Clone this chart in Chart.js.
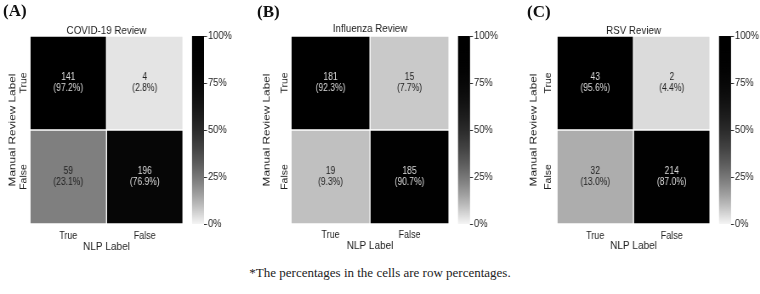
<!DOCTYPE html>
<html>
<head>
<meta charset="utf-8">
<script src="https://cdn.jsdelivr.net/npm/chart.js@4.4.1/dist/chart.umd.min.js"></script>
<style>
  body { margin: 0; background: #fff; width: 760px; height: 294px; position: relative; overflow: hidden; }
  /* the original figure is squeezed sideways, so the canvases are too */
  canvas { position: absolute; top: 0; transform-origin: 0 0; transform: scaleX(0.85); }
  .tag { position: absolute; font: bold 17px "Liberation Serif", "Times New Roman", serif; line-height: 17px; color: #111; }
  #note { position: absolute; left: 0; width: 760px; top: 265px; text-align: center; font: 13px "Liberation Serif", "Times New Roman", serif; line-height: 16px; color: #222; }
</style>
</head>
<body>
<canvas id="chartA" style="left:0px"></canvas>
<canvas id="chartB" style="left:250px"></canvas>
<canvas id="chartC" style="left:505px"></canvas>
<div class="tag" style="left:3px; top:2px">(A)</div>
<div class="tag" style="left:257px; top:3px">(B)</div>
<div class="tag" style="left:527px; top:3px">(C)</div>
<div id="note">*The percentages in the cells are row percentages.</div>
<script>
// rows = manual review label, columns = NLP label
const rowLabels = ["True", "False"];
const colLabels = ["True", "False"];

const covidCounts = [[141, 4], [59, 196]];
const covidPcts = [[97.2, 2.8], [23.1, 76.9]];
const fluCounts = [[181, 15], [19, 185]];
const fluPcts = [[92.3, 7.7], [9.3, 90.7]];
const rsvCounts = [[43, 2], [32, 214]];
const rsvPcts = [[95.6, 4.4], [13.0, 87.0]];

const cbarTicks = [0, 25, 50, 75, 100];

const SX = 0.85;   // same as the css scaleX
Chart.defaults.font.family = '"Liberation Sans", Arial, sans-serif';
Chart.defaults.color = '#222';

// near white -> black, darkens fast like the original colour map
function shade(p) {
  const g = Math.round(245 * Math.pow(1 - p / 100, 2.5));
  return 'rgb(' + g + ',' + g + ',' + g + ')';
}

const heatPlugin = {
  id: 'heat',
  afterDatasetsDraw(chart) {
    const ctx = chart.ctx;
    ctx.save();
    ctx.font = '10px "Liberation Sans", Arial, sans-serif';
    ctx.textAlign = 'center';
    ctx.textBaseline = 'middle';
    chart.data.datasets.forEach((ds, di) => {
      chart.getDatasetMeta(di).data.forEach((bar, c) => {
        const p = ds.pcts[c];
        const cy = (bar.y + bar.base) / 2;
        ctx.fillStyle = p > 50 ? '#dcdcdc' : '#222';
        ctx.fillText(String(ds.counts[c]), bar.x, cy - 5.5);
        ctx.fillText('(' + p.toFixed(1) + '%)', bar.x, cy + 5.5);
      });
    });
    ctx.restore();
  },
  afterDraw(chart) {   // colour bar next to the heatmap, built on the cb scale
    const s = chart.scales.cb;
    const ctx = chart.ctx;
    const x0 = chart.chartArea.right + 9 / SX;
    const w = 12 / SX;
    const grad = ctx.createLinearGradient(0, s.bottom, 0, s.top);
    for (let i = 0; i <= 20; i++) grad.addColorStop(i / 20, shade(i * 5));
    ctx.save();
    ctx.fillStyle = grad;
    ctx.fillRect(x0, s.top, w, s.bottom - s.top);
    ctx.strokeStyle = '#333';
    ctx.lineWidth = 1;
    s.ticks.forEach(t => {
      const y = Math.round(s.getPixelForValue(t.value)) + 0.5;
      ctx.beginPath();
      ctx.moveTo(x0 + w, y);
      ctx.lineTo(x0 + w + 3.5, y);
      ctx.stroke();
    });
    ctx.restore();
  }
};

// lay: page pixels relative to the canvas' left edge
function buildPanel(id, title, counts, pcts, lay) {
  const cv = document.getElementById(id);
  cv.width = Math.round(lay.width / SX);
  cv.height = 260;
  return new Chart(cv, {
    type: 'bar',
    data: {
      labels: colLabels,
      datasets: [1, 0].map(r => ({          // bottom row first in the stack
        label: rowLabels[r],
        data: colLabels.map(() => 1),
        counts: counts[r],
        pcts: pcts[r],
        backgroundColor: pcts[r].map(shade),
        borderColor: '#fff',
        borderWidth: 1,
        borderSkipped: false,
        barPercentage: 1,
        categoryPercentage: 1
      }))
    },
    options: {
      responsive: false,
      animation: false,
      events: [],
      layout: { padding: 0 },
      plugins: {
        legend: { display: false },
        tooltip: { enabled: false },
        title: {
          display: true, text: title, color: '#222', fullSize: false,
          font: { size: 11.5, weight: 'normal', lineHeight: 1 },
          padding: { top: lay.titleY - 5.75, bottom: lay.top - lay.titleY - 5.75 }
        }
      },
      scales: {
        x: {
          stacked: true,
          grid: { display: false, drawTicks: false },
          border: { display: false },
          ticks: { color: '#222', font: { size: 10.5 }, padding: lay.xTick },
          title: { display: true, text: 'NLP Label', color: '#222', font: { size: 11.8, lineHeight: 1 }, padding: { top: 0, bottom: 260 - lay.xTitleY - 5.9 } },
          afterFit: s => { s.height = 260 - lay.bottom; }
        },
        y: {
          stacked: true, min: 0, max: 2,
          afterBuildTicks: s => { s.ticks = [{ value: 0.5 }, { value: 1.5 }]; },
          grid: { display: false, drawTicks: false },
          border: { display: false },
          ticks: {
            autoSkip: false, minRotation: 90, maxRotation: 90, crossAlign: 'center',
            padding: lay.yTickPad, color: '#222', font: { size: 10.5 },
            callback: v => rowLabels[v > 1 ? 0 : 1]
          },
          title: { display: true, text: 'Manual Review Label', color: '#222', font: { size: 11.8, lineHeight: 1 }, padding: { top: lay.yTitleX / SX - 5.9, bottom: 0 } },
          afterFit: s => { s.width = lay.left / SX; }
        },
        cb: {
          type: 'linear', axis: 'y', position: 'right', min: 0, max: 100,
          afterBuildTicks: s => { s.ticks = cbarTicks.map(v => ({ value: v })); },
          grid: { display: false, drawTicks: false },
          border: { display: false },
          ticks: { padding: 25 / SX, color: '#222', font: { size: 11 }, callback: v => v + '%' },
          afterFit: s => { s.width = cv.width - lay.right / SX; }
        }
      }
    },
    plugins: [heatPlugin]
  });
}

buildPanel('chartA', 'COVID-19 Review', covidCounts, covidPcts,
  { width: 250, left: 30, right: 183, top: 33, bottom: 224, titleY: 28, xTick: 6, xTitleY: 247, yTitleX: 12.5, yTickPad: -5.8 });
buildPanel('chartB', 'Influenza Review', fluCounts, fluPcts,
  { width: 255, left: 41, right: 199, top: 34, bottom: 230, titleY: 27, xTick: 4.5, xTitleY: 252, yTitleX: 16.7, yTickPad: -5.3 });
buildPanel('chartC', 'RSV Review', rsvCounts, rsvPcts,
  { width: 255, left: 52, right: 205, top: 33, bottom: 226, titleY: 28, xTick: 5.5, xTitleY: 248, yTitleX: 28.3, yTickPad: -2.9 });
</script>
</body>
</html>
